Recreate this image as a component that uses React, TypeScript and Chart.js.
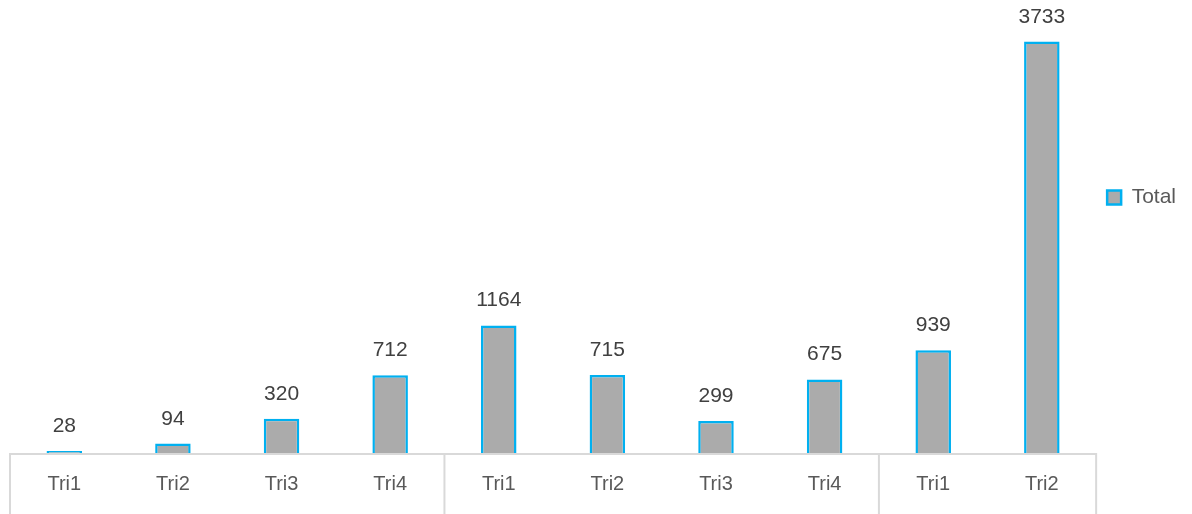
import React, { useEffect, useRef } from "react";
import { Chart, registerables } from "chart.js";

Chart.register(...registerables);

const categories = ["Tri1", "Tri2", "Tri3", "Tri4", "Tri1", "Tri2", "Tri3", "Tri4", "Tri1", "Tri2"];
const totals = [28, 94, 320, 712, 1164, 715, 299, 675, 939, 3733];
const groupSizes = [4, 4, 2];
const seriesName = "Total";

const FONT = "'Liberation Sans', Arial, sans-serif";

const boxLinesPlugin = {
  id: "boxLines",
  afterDatasetsDraw(chart: any) {
    const { ctx, chartArea, scales, height } = chart;
    const x = scales.x;
    const half = (x.getPixelForValue(1) - x.getPixelForValue(0)) / 2;
    const bounds: number[] = [];
    let idx = 0;
    for (const size of groupSizes) {
      bounds.push(x.getPixelForValue(idx) - half);
      idx += size;
    }
    bounds.push(x.getPixelForValue(idx - 1) + half);
    ctx.save();
    ctx.strokeStyle = "#D9D9D9";
    ctx.lineWidth = 2;
    ctx.beginPath();
    ctx.moveTo(bounds[0] - 1, chartArea.bottom);
    ctx.lineTo(bounds[bounds.length - 1] + 1, chartArea.bottom);
    for (const b of bounds) {
      ctx.moveTo(b, chartArea.bottom);
      ctx.lineTo(b, height);
    }
    ctx.stroke();
    ctx.restore();
  },
};

const valueLabelsPlugin = {
  id: "valueLabels",
  afterDatasetsDraw(chart: any) {
    const { ctx } = chart;
    const meta = chart.getDatasetMeta(0);
    const data = chart.data.datasets[0].data;
    ctx.save();
    ctx.font = `21px ${FONT}`;
    ctx.fillStyle = "#404040";
    ctx.textAlign = "center";
    ctx.textBaseline = "alphabetic";
    meta.data.forEach((bar: any, i: number) => {
      ctx.fillText(String(data[i]), bar.x, bar.y - 19);
    });
    ctx.restore();
  },
};

export default function App() {
  const canvasRef = useRef<HTMLCanvasElement | null>(null);

  useEffect(() => {
    document.body.style.margin = "0";
    const canvas = canvasRef.current;
    if (!canvas) return;
    const chart = new Chart(canvas, {
      type: "bar",
      data: {
        labels: categories,
        datasets: [
          {
            label: seriesName,
            data: totals,
            backgroundColor: "#ABABAB",
            borderColor: "#00B0F0",
            borderWidth: 2.5,
            categoryPercentage: 1,
            barPercentage: 0.327,
          },
        ],
      },
      options: {
        responsive: false,
        animation: false,
        devicePixelRatio: 1,
        layout: { padding: { left: 10, top: 12, right: 6, bottom: 0 } },
        scales: {
          x: {
            grid: { display: false, drawTicks: false },
            border: { display: false },
            ticks: {
              color: "#595959",
              font: { family: FONT, size: 20 },
              padding: 18,
              maxRotation: 0,
              autoSkip: false,
            },
            afterFit: (scale: any) => {
              scale.height = 60;
            },
          },
          y: {
            display: false,
            min: 0,
            max: 4000,
          },
        },
        plugins: {
          legend: {
            position: "right",
            align: "start",
            fullSize: false,
            maxWidth: 96,
            title: {
              display: true,
              text: "",
              font: { size: 10, lineHeight: 1 },
              padding: { top: 154, bottom: 0 },
            },
            labels: {
              boxWidth: 14,
              boxHeight: 14,
              padding: 11,
              color: "#595959",
              font: { family: FONT, size: 21 },
            },
          },
          tooltip: { enabled: false },
        },
      },
      plugins: [boxLinesPlugin, valueLabelsPlugin],
    });
    return () => chart.destroy();
  }, []);

  return (
    <div style={{ width: 1192, height: 514 }}>
      <canvas ref={canvasRef} width={1192} height={514} style={{ display: "block" }} />
    </div>
  );
}
